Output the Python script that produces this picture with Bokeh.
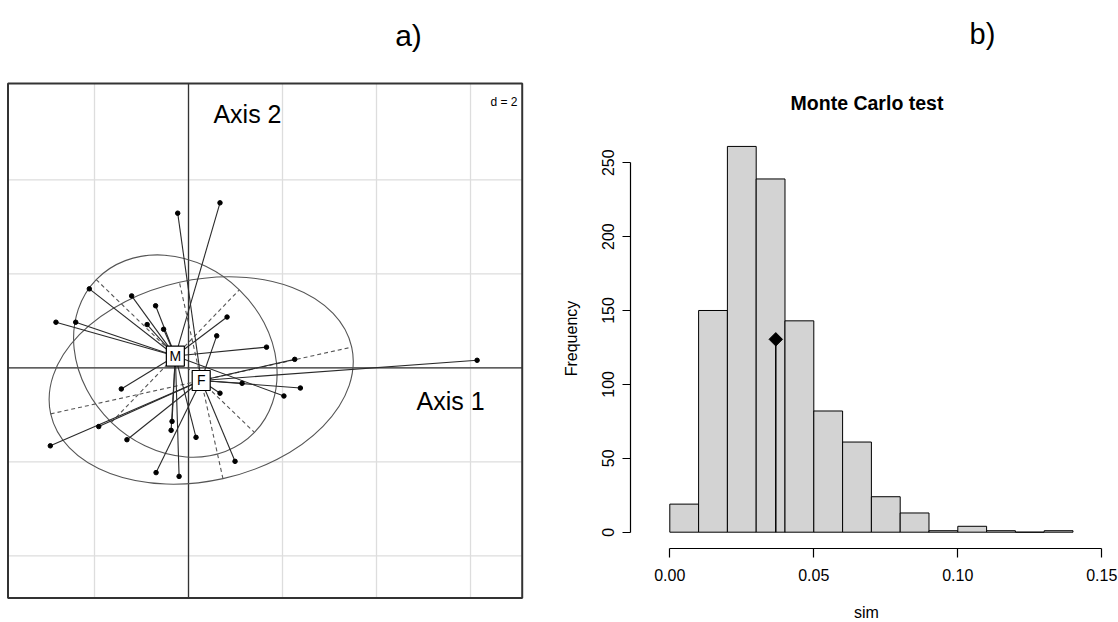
import numpy as np
from bokeh.plotting import figure
from bokeh.layouts import row
from bokeh.models import FixedTicker, Label, ColumnDataSource, PrintfTickFormatter
from bokeh.core.properties import value
from bokeh.embed import file_html
from bokeh.resources import INLINE

FONT = "Liberation Sans"

# ---------------- a) between-class analysis (s.class) ----------------
pt_x = [0.67, -2.11, -1.21, -0.70, -2.82, -2.40, -0.88, -0.53, 0.82, 1.66, 2.03,
        -1.43, -0.35, -0.37, 0.16, -0.20,
        -0.23, 0.60, 2.26, 6.14, 1.14, 2.38, 0.67, -1.91, -2.94, -1.31, -0.69, 0.99]
pt_y = [3.51, 1.68, 1.53, 1.32, 0.97, 0.97, 0.92, 0.82, 1.08, 0.44, -0.60,
        -0.45, -1.14, -1.33, -1.48, -2.31,
        3.29, 0.68, 0.18, 0.16, -0.33, -0.43, -0.54, -1.25, -1.66, -1.53, -2.23, -1.99]
pt_class = ["M"] * 16 + ["F"] * 12

class_names = ["M", "F"]
centroid_x = [-0.28, 0.27]
centroid_y = [0.25, -0.27]
ellipse_a = [2.34, 3.28]        # semi-major axis
ellipse_b = [1.96, 2.14]        # semi-minor axis
ellipse_angle_deg = [-44.0, 12.5]

plot_xlim = [-3.84, 7.10]       # limits of the boxed plot region
plot_ylim = [-4.90, 6.05]
grid_x = [-2, 0, 2, 4, 6]
grid_y = [-4, -2, 0, 2, 4]
d_value = 2

# ---------------- b) Monte Carlo test histogram ----------------
bin_edges = [0.00, 0.01, 0.02, 0.03, 0.04, 0.05, 0.06, 0.07, 0.08, 0.09,
             0.10, 0.11, 0.12, 0.13, 0.14]
counts = [19, 150, 261, 239, 143, 82, 61, 24, 13, 1, 4, 1, 0, 1]
observed = 0.0368
x_ticks = [0.00, 0.05, 0.10, 0.15]
y_ticks = [0, 50, 100, 150, 200, 250]
hist_axis_x = -0.0136           # where the y axis is drawn (left edge of plot region)
hist_axis_y = -10.8             # where the x axis is drawn (bottom edge of plot region)

# ================= figure a =================
p1 = figure(frame_width=540, frame_height=622,
            x_range=(-4.0, 7.489), y_range=(-5.419, 7.815),
            x_axis_type=None, y_axis_type=None,
            toolbar_location=None, output_backend="svg",
            min_border_left=0, min_border_right=0,
            min_border_top=0, min_border_bottom=0,
            outline_line_color=None,
            background_fill_color="white", border_fill_color="white")

# light grid inside the box
p1.segment(x0=grid_x, y0=[plot_ylim[0]] * len(grid_x), x1=grid_x, y1=[plot_ylim[1]] * len(grid_x),
           line_color="#DDDDDD", line_width=1.3)
p1.segment(x0=[plot_xlim[0]] * len(grid_y), y0=grid_y, x1=[plot_xlim[1]] * len(grid_y), y1=grid_y,
           line_color="#DDDDDD", line_width=1.3)
# principal axes through the origin
p1.segment(x0=[0, plot_xlim[0]], y0=[plot_ylim[0], 0], x1=[0, plot_xlim[1]], y1=[plot_ylim[1], 0],
           line_color="#333333", line_width=1.3)

ang = np.radians(ellipse_angle_deg)
ca = np.array(ellipse_a)
cb = np.array(ellipse_b)
cx = np.array(centroid_x)
cy = np.array(centroid_y)

p1.ellipse(x=centroid_x, y=centroid_y, width=list(2 * ca), height=list(2 * cb),
           angle=list(ang), fill_color=None, line_color="#555555", line_width=1.1)

# dashed ellipse axes
ax_x0 = list(cx - ca * np.cos(ang)) + list(cx + cb * np.sin(ang))
ax_y0 = list(cy - ca * np.sin(ang)) + list(cy - cb * np.cos(ang))
ax_x1 = list(cx + ca * np.cos(ang)) + list(cx - cb * np.sin(ang))
ax_y1 = list(cy + ca * np.sin(ang)) + list(cy + cb * np.cos(ang))
p1.segment(x0=ax_x0, y0=ax_y0, x1=ax_x1, y1=ax_y1,
           line_color="#555555", line_width=1.1, line_dash="4 3")

# stars: points to their class centroid
idx = [class_names.index(c) for c in pt_class]
seg_src = ColumnDataSource(dict(x0=pt_x, y0=pt_y,
                                x1=[centroid_x[i] for i in idx],
                                y1=[centroid_y[i] for i in idx]))
p1.segment(x0="x0", y0="y0", x1="x1", y1="y1", source=seg_src,
           line_color="#2a2a2a", line_width=1.1)
p1.scatter(pt_x, pt_y, size=4.5, color="black")

# box around the plot region
p1.quad(left=[plot_xlim[0]], right=[plot_xlim[1]], bottom=[plot_ylim[0]], top=[plot_ylim[1]],
        fill_color=None, line_color="#333333", line_width=2)

# centroid labels in boxes
p1.rect(x=centroid_x, y=centroid_y, width=18, height=20,
        width_units="screen", height_units="screen",
        fill_color="white", line_color="black", line_width=1.2)
p1.text(x=centroid_x, y=centroid_y, text=class_names,
        text_align="center", text_baseline="middle",
        text_font=value(FONT), text_font_size="14px", text_color="black")

p1.add_layout(Label(x=0.53, y=5.40, text="Axis 2", text_font=FONT,
                    text_font_size="25px", text_align="left", text_baseline="alphabetic",
                    text_color="black"))
p1.add_layout(Label(x=4.85, y=-0.71, text="Axis 1", text_font=FONT,
                    text_font_size="25px", text_align="left", text_baseline="alphabetic",
                    text_color="black"))
p1.add_layout(Label(x=517, y=521, x_units="screen", y_units="screen",
                    text=f"d = {d_value}", text_font=FONT, text_font_size="12px",
                    text_align="right", text_baseline="alphabetic", text_color="black",
                    background_fill_color="white"))
p1.add_layout(Label(x=408, y=587, x_units="screen", y_units="screen",
                    text="a)", text_font=FONT, text_font_size="30px",
                    text_align="center", text_baseline="alphabetic", text_color="black"))

# ================= figure b =================
p2 = figure(frame_width=578, frame_height=622,
            x_range=(-0.044896, 0.155799), y_range=(-61.1, 359.74),
            toolbar_location=None, output_backend="svg",
            min_border_left=0, min_border_right=0,
            min_border_top=0, min_border_bottom=0,
            outline_line_color=None,
            background_fill_color="white", border_fill_color="white")
p2.grid.visible = False

p2.quad(left=bin_edges[:-1], right=bin_edges[1:], bottom=0, top=counts,
        fill_color="#D3D3D3", line_color="black", line_width=1)

obs_height = max(counts) / 2
p2.segment(x0=[observed], y0=[0], x1=[observed], y1=[obs_height],
           line_color="black", line_width=1.5)
p2.scatter([observed], [obs_height], marker="square", angle=np.pi / 4,
           size=9.5, color="black")

xa = p2.xaxis[0]
xa.ticker = FixedTicker(ticks=x_ticks)
xa.bounds = (x_ticks[0], x_ticks[-1])
xa.formatter = PrintfTickFormatter(format="%.2f")
xa.fixed_location = hist_axis_y
ya = p2.yaxis[0]
ya.ticker = FixedTicker(ticks=y_ticks)
ya.bounds = (y_ticks[0], y_ticks[-1])
ya.major_label_orientation = "vertical"
ya.fixed_location = hist_axis_x

for ax in (xa, ya):
    ax.axis_line_color = "black"
    ax.axis_line_width = 1.2
    ax.major_tick_line_color = "black"
    ax.major_tick_line_width = 1.2
    ax.major_tick_in = 0
    ax.minor_tick_in = 0
    ax.minor_tick_out = 0
    ax.major_label_text_font = FONT
    ax.major_label_text_font_size = "16px"
    ax.major_label_text_color = "black"

xa.major_tick_out = 9
xa.major_label_standoff = 12
ya.major_tick_out = 8
ya.major_label_standoff = 9

# texts (screen units: from the left / bottom edge of this panel)
p2.add_layout(Label(x=31, y=284, x_units="screen", y_units="screen", angle=np.pi / 2,
                    text="Frequency", text_font=FONT, text_font_size="16px",
                    text_align="center", text_baseline="middle", text_color="black"))
p2.add_layout(Label(x=326, y=10, x_units="screen", y_units="screen",
                    text="sim", text_font=FONT, text_font_size="16px",
                    text_align="center", text_baseline="alphabetic", text_color="black"))
p2.add_layout(Label(x=326.5, y=520, x_units="screen", y_units="screen",
                    text="Monte Carlo test", text_font=FONT, text_font_size="19.5px",
                    text_font_style="bold", text_align="center",
                    text_baseline="alphabetic", text_color="black"))
p2.add_layout(Label(x=442, y=589, x_units="screen", y_units="screen",
                    text="b)", text_font=FONT, text_font_size="29px",
                    text_align="center", text_baseline="alphabetic", text_color="black"))

layout = row(p1, p2)
open("out.html", "w").write(file_html(layout, INLINE, title="s.class and Monte Carlo test"))
